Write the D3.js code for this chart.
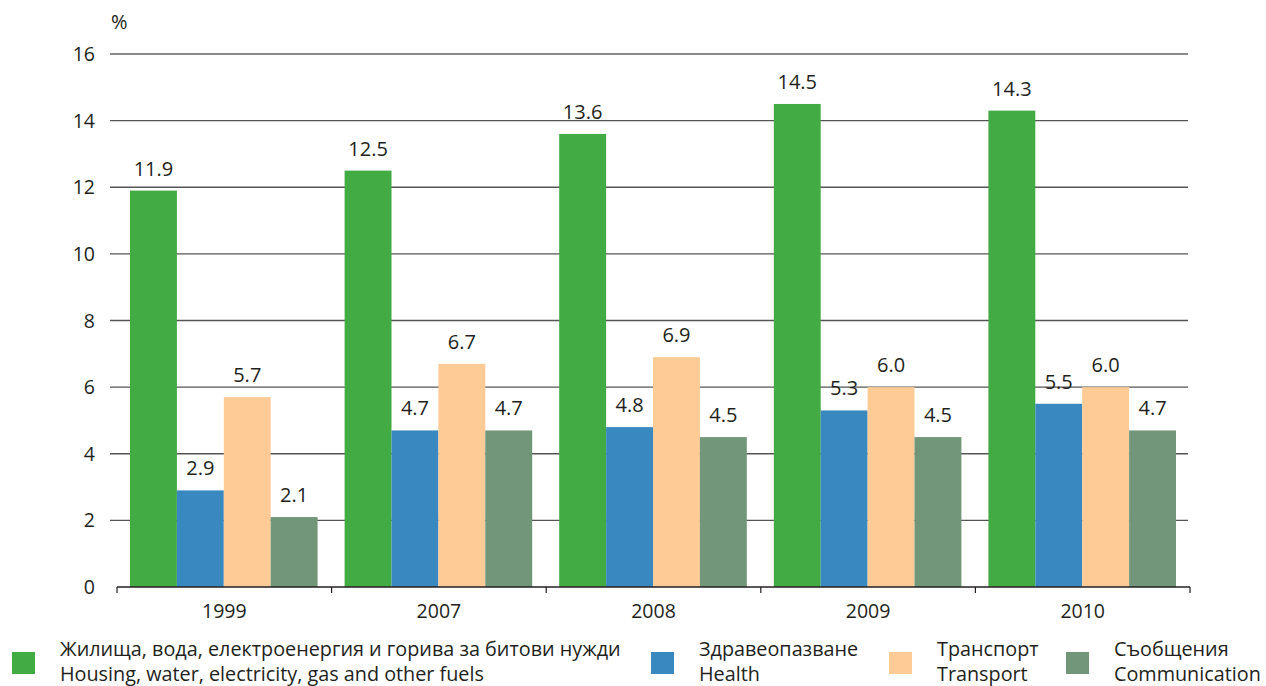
<!DOCTYPE html>
<html><head><meta charset="utf-8">
<script src="https://cdn.jsdelivr.net/npm/d3@7"></script>
<style>body{margin:0;background:#fff}svg{display:block}text{font-family:"Open Sans","Noto Sans",sans-serif;fill:#231f20}</style>
</head><body><svg id="c" width="1266" height="686"></svg>
<script>
const years = ["1999","2007","2008","2009","2010"];
const seriesBg = ["Жилища, вода, електроенергия и горива за битови нужди","Здравеопазване","Транспорт","Съобщения"];
const seriesEn = ["Housing, water, electricity, gas and other fuels","Health","Transport","Communication"];
const housing = [11.9,12.5,13.6,14.5,14.3];
const health = [2.9,4.7,4.8,5.3,5.5];
const transport = [5.7,6.7,6.9,6.0,6.0];
const communication = [2.1,4.7,4.5,4.5,4.7];
const colors = ["#43ab44","#3a88c0","#fecb96","#72967a"];
const yTicks = [0,2,4,6,8,10,12,14,16];
const values = [housing,health,transport,communication];

const svg = d3.select("#c");
const x0 = d3.scaleBand().domain(years).range([117,1190]).paddingInner(0).paddingOuter(0);
const x1 = d3.scaleBand().domain(d3.range(4)).range([13, x0.bandwidth()-14]);
const y = d3.scaleLinear().domain([0,16]).range([587,54]);

// gridlines
svg.append("g").selectAll("line").data(yTicks.filter(d=>d>0)).join("line")
  .attr("x1",110).attr("x2",1188).attr("y1",d=>y(d)).attr("y2",d=>y(d))
  .attr("stroke",d=>d===16?"#8a8a8a":"#555").attr("stroke-width",d=>d===16?1.8:1.3);
// y labels
svg.append("g").selectAll("text").data(yTicks).join("text")
  .attr("x",95).attr("y",d=>y(d)).attr("dy","0.36em").attr("text-anchor","end")
  .attr("font-size",19.5).text(d=>d);
svg.append("text").attr("x",111).attr("y",29).attr("font-size",20).text("%");

// bars
const g = svg.append("g").selectAll("g").data(years).join("g")
  .attr("transform",d=>`translate(${x0(d)},0)`);
g.selectAll("rect").data((d,i)=>values.map((s,k)=>({k,v:s[i]}))).join("rect")
  .attr("x",d=>x1(d.k)).attr("width",x1.bandwidth())
  .attr("y",d=>y(d.v)).attr("height",d=>y(0)-y(d.v)).attr("fill",d=>colors[d.k]);
g.selectAll("text").data((d,i)=>values.map((s,k)=>({k,v:s[i]}))).join("text")
  .attr("x",d=>x1(d.k)+x1.bandwidth()/2).attr("y",d=>y(d.v)-15)
  .attr("text-anchor","middle").attr("font-size",20).text(d=>d.v.toFixed(1));

// x axis
const xa = svg.append("g");
xa.append("line").attr("x1",117).attr("x2",1190).attr("y1",587).attr("y2",587).attr("stroke","#231f20").attr("stroke-width",1.5);
const tickX = years.map(d=>x0(d)).concat([x0(years[years.length-1])+x0.bandwidth()]);
xa.selectAll("line.t").data(tickX).join("line").attr("class","t")
  .attr("x1",d=>d).attr("x2",d=>d).attr("y1",587).attr("y2",593).attr("stroke","#231f20").attr("stroke-width",1.2);
xa.selectAll("text").data(years).join("text")
  .attr("x",d=>x0(d)+x0.bandwidth()/2).attr("y",618).attr("text-anchor","middle").attr("font-size",19.5).text(d=>d);

// legend
const legX = [12,651,889,1066];
const lg = svg.append("g").selectAll("g").data(d3.range(4)).join("g");
lg.append("rect").attr("x",k=>legX[k]).attr("y",652).attr("width",23).attr("height",22).attr("fill",k=>colors[k]);
lg.append("text").attr("x",k=>legX[k]+48).attr("y",656).attr("font-size",19.8).text(k=>seriesBg[k]);
lg.append("text").attr("x",k=>legX[k]+48).attr("y",681).attr("font-size",19.8).text(k=>seriesEn[k]);
</script></body></html>
